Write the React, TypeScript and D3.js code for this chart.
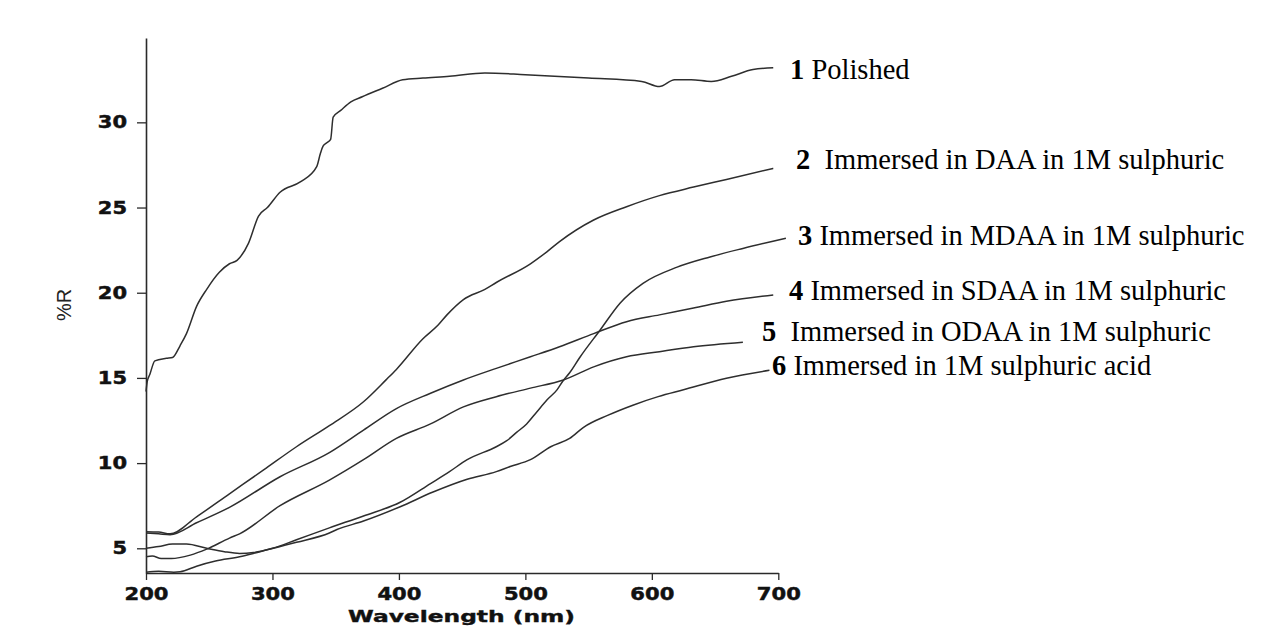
import { useEffect, useRef } from 'react';
import * as d3 from 'd3';

// wavelengths (nm) and %R
const polishedNm = [200, 201, 203, 207, 216, 221, 227, 232, 240, 248, 258, 266, 272, 281, 289, 296, 306, 322, 335, 338, 340, 343, 346, 348, 354, 362, 371, 387, 403, 419, 440, 468, 500, 550, 592, 606, 618, 631, 647, 663, 680, 696];
const polishedR = [14.2, 14.8, 15.2, 16.0, 16.15, 16.2, 16.9, 17.6, 19.2, 20.2, 21.2, 21.7, 21.9, 22.9, 24.5, 25.0, 25.9, 26.5, 27.4, 28.2, 28.6, 28.8, 29.0, 30.3, 30.7, 31.2, 31.5, 32.0, 32.5, 32.6, 32.7, 32.9, 32.8, 32.6, 32.4, 32.1, 32.5, 32.5, 32.4, 32.7, 33.1, 33.2];

const daaNm = [200, 210, 219, 240, 266, 293, 319, 345, 372, 390, 398, 419, 431, 438, 451, 468, 477, 504, 517, 527, 554, 580, 606, 633, 659, 696];
const daaR = [5.97, 5.95, 5.85, 6.85, 8.2, 9.6, 10.96, 12.2, 13.6, 14.9, 15.5, 17.3, 18.1, 18.7, 19.6, 20.2, 20.6, 21.7, 22.4, 23.0, 24.27, 25.05, 25.7, 26.2, 26.65, 27.3];

const mdaaNm = [200, 210, 221, 232, 248, 262, 274, 285, 300, 319, 345, 372, 401, 425, 440, 454, 477, 485, 493, 501, 509, 517, 525, 530, 535, 543, 559, 575, 593, 620, 646, 672, 706];
const mdaaR = [5.0, 5.1, 5.25, 5.25, 5.0, 4.8, 4.7, 4.75, 5.0, 5.5, 6.2, 6.9, 7.7, 8.8, 9.5, 10.2, 10.96, 11.3, 11.8, 12.3, 13.0, 13.7, 14.3, 14.85, 15.3, 16.2, 17.8, 19.4, 20.55, 21.5, 22.1, 22.6, 23.2];

const sdaaNm = [200, 210, 219, 240, 266, 306, 345, 372, 398, 425, 451, 477, 504, 527, 554, 580, 606, 633, 659, 696];
const sdaaR = [5.9, 5.85, 5.8, 6.5, 7.4, 9.2, 10.62, 11.94, 13.2, 14.1, 14.88, 15.56, 16.24, 16.83, 17.6, 18.3, 18.7, 19.1, 19.5, 19.87];

const odaaNm = [200, 205, 212, 220, 235, 248, 266, 274, 306, 345, 372, 398, 425, 451, 477, 504, 530, 554, 580, 606, 633, 672];
const odaaR = [4.5, 4.55, 4.4, 4.4, 4.6, 4.95, 5.6, 5.85, 7.5, 9.0, 10.2, 11.45, 12.3, 13.3, 13.9, 14.4, 14.88, 15.65, 16.24, 16.54, 16.83, 17.1];

const acidNm = [200, 210, 222, 227, 240, 255, 274, 290, 319, 345, 351, 372, 401, 427, 454, 477, 488, 504, 520, 535, 546, 565, 585, 605, 625, 659, 693];
const acidR = [3.6, 3.65, 3.6, 3.62, 3.95, 4.25, 4.5, 4.8, 5.35, 5.9, 6.1, 6.6, 7.44, 8.3, 9.05, 9.5, 9.8, 10.2, 10.96, 11.45, 12.1, 12.8, 13.4, 13.9, 14.3, 14.98, 15.45];

const seriesNm = [polishedNm, daaNm, mdaaNm, sdaaNm, odaaNm, acidNm];
const seriesR = [polishedR, daaR, mdaaR, sdaaR, odaaR, acidR];

const labelNums = ['1', '2', '3', '4', '5', '6'];
const labelTexts = [
  ' Polished',
  '  Immersed in DAA in 1M sulphuric',
  ' Immersed in MDAA in 1M sulphuric',
  ' Immersed in SDAA in 1M sulphuric',
  '  Immersed in ODAA in 1M sulphuric',
  ' Immersed in 1M sulphuric acid',
];
const labelPos = [
  [790, 79],
  [796, 169],
  [798, 245],
  [789, 300],
  [762, 341],
  [772, 375],
];

const xTicks = [200, 300, 400, 500, 600, 700];
const yTicks = [5, 10, 15, 20, 25, 30];

const sansBold = '"DejaVu Sans", "Liberation Sans", Arial, sans-serif';

const ReflectanceChart = () => {
  const svgRef = useRef<SVGSVGElement>(null);

  useEffect(() => {
    if (!svgRef.current) return;
    d3.select(svgRef.current).selectAll('*').remove();

    const width = 1275;
    const height = 639;

    const svg = d3.select(svgRef.current)
      .attr('width', width)
      .attr('height', height);

    svg.append('rect').attr('width', width).attr('height', height).attr('fill', '#fff');

    const x = d3.scaleLinear().domain([200, 700]).range([146, 778.3]);
    const y = d3.scaleLinear().domain([3.55, 34.95]).range([573, 38]);

    // axes
    const gx = svg.append('g')
      .attr('transform', `translate(0,${y(3.55)})`)
      .call(d3.axisBottom(x).tickValues(xTicks).tickSizeInner(7).tickSizeOuter(0).tickPadding(7));
    gx.select('.domain').attr('stroke', '#2a2a2a').attr('stroke-width', 1.6);
    gx.selectAll('.tick line').attr('stroke', '#2a2a2a').attr('stroke-width', 1.3);
    gx.selectAll('.tick text')
      .attr('fill', '#111')
      .attr('stroke', '#111')
      .attr('stroke-width', 0.5)
      .style('font-family', sansBold)
      .style('font-weight', 'bold')
      .style('font-size', '18.5px')
      .attr('textLength', 44)
      .attr('lengthAdjust', 'spacingAndGlyphs');

    const gy = svg.append('g')
      .attr('transform', `translate(${x(200)},0)`)
      .call(d3.axisLeft(y).tickValues(yTicks).tickSizeInner(9).tickSizeOuter(0).tickPadding(10));
    gy.select('.domain').attr('stroke', '#2a2a2a').attr('stroke-width', 1.6);
    gy.selectAll('.tick line').attr('stroke', '#2a2a2a').attr('stroke-width', 1.3);
    gy.selectAll<SVGTextElement, number>('.tick text')
      .attr('fill', '#111')
      .attr('stroke', '#111')
      .attr('stroke-width', 0.5)
      .style('font-family', sansBold)
      .style('font-weight', 'bold')
      .style('font-size', '17.5px')
      .attr('textLength', d => String(d).length * 14.6)
      .attr('lengthAdjust', 'spacingAndGlyphs');

    svg.append('text')
      .attr('x', 461.5)
      .attr('y', 622)
      .attr('text-anchor', 'middle')
      .attr('fill', '#111')
      .attr('stroke', '#111')
      .attr('stroke-width', 0.4)
      .style('font-family', sansBold)
      .style('font-weight', 'bold')
      .style('font-size', '16.5px')
      .attr('textLength', 227)
      .attr('lengthAdjust', 'spacingAndGlyphs')
      .text('Wavelength (nm)');

    svg.append('text')
      .attr('transform', 'translate(71,305) rotate(-90)')
      .attr('text-anchor', 'middle')
      .attr('fill', '#222')
      .style('font-family', '"Liberation Sans", Arial, sans-serif')
      .style('font-size', '20px')
      .text('%R');

    // spectra
    const line = d3.line<[number, number]>()
      .x(d => x(d[0]))
      .y(d => y(d[1]))
      .curve(d3.curveMonotoneX);

    seriesNm.forEach((nm, i) => {
      const pts = nm.map((w, j) => [w, seriesR[i][j]] as [number, number]);
      svg.append('path')
        .attr('d', line(pts))
        .attr('fill', 'none')
        .attr('stroke', '#2e2e2e')
        .attr('stroke-width', 1.5);
    });

    // curve labels
    labelNums.forEach((n, i) => {
      const t = svg.append('text')
        .attr('x', labelPos[i][0])
        .attr('y', labelPos[i][1])
        .attr('fill', '#000')
        .attr('xml:space', 'preserve')
        .style('white-space', 'pre')
        .style('font-family', '"Liberation Serif", "Times New Roman", serif')
        .style('font-size', '28.5px');
      t.append('tspan').style('font-weight', 'bold').text(n);
      t.append('tspan').text(labelTexts[i]);
    });
  }, []);

  return <svg ref={svgRef} style={{ position: 'absolute', left: 0, top: 0 }} />;
};

export default function App() {
  return <ReflectanceChart />;
}
